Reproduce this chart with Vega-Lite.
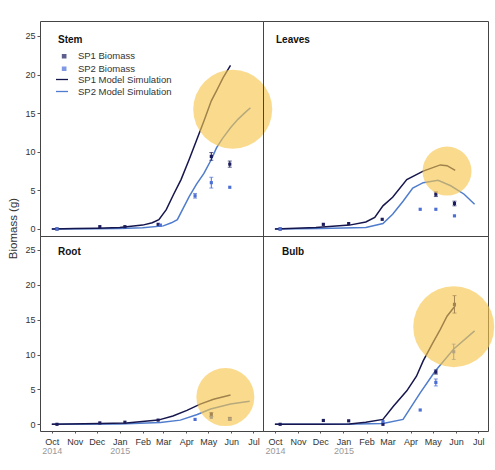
{
  "$schema": "https://vega.github.io/schema/vega-lite/v6.json",
  "padding": {"left": 6, "top": 20, "right": 0, "bottom": 5},
  "background": "white",
  "config": {
    "view": {"stroke": "#444", "strokeWidth": 1},
    "font": "Liberation Sans",
    "axis": {"grid": false, "domain": false, "labelFont": "Liberation Sans", "labelFontSize": 9, "labelColor": "#333", "tickColor": "#555", "titleFont": "Liberation Sans", "titleFontWeight": "normal", "titleColor": "#333", "labelOverlap": false},
    "title": {"font": "Liberation Sans", "fontSize": 10, "fontWeight": "bold", "color": "#111", "anchor": "start", "frame": "group"},
    "legend": {"labelFont": "Liberation Sans", "labelFontSize": 9.5, "labelColor": "#333", "title": null}
  },
  "datasets": {
    "model": [
      {"panel": "Stem", "series": "SP2 Model Simulation", "date": "2014-10-01", "value": 0},
      {"panel": "Stem", "series": "SP2 Model Simulation", "date": "2014-12-01", "value": 0.02},
      {"panel": "Stem", "series": "SP2 Model Simulation", "date": "2015-01-01", "value": 0.05},
      {"panel": "Stem", "series": "SP2 Model Simulation", "date": "2015-02-01", "value": 0.15},
      {"panel": "Stem", "series": "SP2 Model Simulation", "date": "2015-03-01", "value": 0.4},
      {"panel": "Stem", "series": "SP2 Model Simulation", "date": "2015-03-12", "value": 0.8},
      {"panel": "Stem", "series": "SP2 Model Simulation", "date": "2015-03-20", "value": 1.2},
      {"panel": "Stem", "series": "SP2 Model Simulation", "date": "2015-03-28", "value": 2.7},
      {"panel": "Stem", "series": "SP2 Model Simulation", "date": "2015-04-05", "value": 4.2},
      {"panel": "Stem", "series": "SP2 Model Simulation", "date": "2015-04-15", "value": 5.8},
      {"panel": "Stem", "series": "SP2 Model Simulation", "date": "2015-04-25", "value": 7.2},
      {"panel": "Stem", "series": "SP2 Model Simulation", "date": "2015-05-05", "value": 9.0},
      {"panel": "Stem", "series": "SP2 Model Simulation", "date": "2015-05-12", "value": 10.5},
      {"panel": "Stem", "series": "SP2 Model Simulation", "date": "2015-05-20", "value": 11.7},
      {"panel": "Stem", "series": "SP2 Model Simulation", "date": "2015-05-31", "value": 13.1},
      {"panel": "Stem", "series": "SP2 Model Simulation", "date": "2015-06-10", "value": 14.2},
      {"panel": "Stem", "series": "SP2 Model Simulation", "date": "2015-06-20", "value": 15.1},
      {"panel": "Stem", "series": "SP2 Model Simulation", "date": "2015-06-27", "value": 15.7},
      {"panel": "Stem", "series": "SP1 Model Simulation", "date": "2014-10-01", "value": 0},
      {"panel": "Stem", "series": "SP1 Model Simulation", "date": "2014-11-01", "value": 0.05},
      {"panel": "Stem", "series": "SP1 Model Simulation", "date": "2014-12-01", "value": 0.1},
      {"panel": "Stem", "series": "SP1 Model Simulation", "date": "2015-01-01", "value": 0.2},
      {"panel": "Stem", "series": "SP1 Model Simulation", "date": "2015-02-01", "value": 0.5},
      {"panel": "Stem", "series": "SP1 Model Simulation", "date": "2015-02-14", "value": 0.8},
      {"panel": "Stem", "series": "SP1 Model Simulation", "date": "2015-02-23", "value": 1.2},
      {"panel": "Stem", "series": "SP1 Model Simulation", "date": "2015-03-05", "value": 2.5},
      {"panel": "Stem", "series": "SP1 Model Simulation", "date": "2015-03-15", "value": 4.5},
      {"panel": "Stem", "series": "SP1 Model Simulation", "date": "2015-03-25", "value": 6.4},
      {"panel": "Stem", "series": "SP1 Model Simulation", "date": "2015-04-05", "value": 9.0},
      {"panel": "Stem", "series": "SP1 Model Simulation", "date": "2015-04-15", "value": 11.5},
      {"panel": "Stem", "series": "SP1 Model Simulation", "date": "2015-04-25", "value": 14.0},
      {"panel": "Stem", "series": "SP1 Model Simulation", "date": "2015-05-05", "value": 16.6},
      {"panel": "Stem", "series": "SP1 Model Simulation", "date": "2015-05-12", "value": 17.9},
      {"panel": "Stem", "series": "SP1 Model Simulation", "date": "2015-05-21", "value": 19.6},
      {"panel": "Stem", "series": "SP1 Model Simulation", "date": "2015-05-31", "value": 21.2},
      {"panel": "Leaves", "series": "SP2 Model Simulation", "date": "2014-10-01", "value": 0},
      {"panel": "Leaves", "series": "SP2 Model Simulation", "date": "2014-12-01", "value": 0.05},
      {"panel": "Leaves", "series": "SP2 Model Simulation", "date": "2015-01-31", "value": 0.2},
      {"panel": "Leaves", "series": "SP2 Model Simulation", "date": "2015-02-23", "value": 0.7},
      {"panel": "Leaves", "series": "SP2 Model Simulation", "date": "2015-03-08", "value": 1.9},
      {"panel": "Leaves", "series": "SP2 Model Simulation", "date": "2015-03-22", "value": 3.6},
      {"panel": "Leaves", "series": "SP2 Model Simulation", "date": "2015-04-04", "value": 5.3},
      {"panel": "Leaves", "series": "SP2 Model Simulation", "date": "2015-04-18", "value": 6.0},
      {"panel": "Leaves", "series": "SP2 Model Simulation", "date": "2015-05-08", "value": 6.3},
      {"panel": "Leaves", "series": "SP2 Model Simulation", "date": "2015-05-25", "value": 5.6},
      {"panel": "Leaves", "series": "SP2 Model Simulation", "date": "2015-06-12", "value": 4.5},
      {"panel": "Leaves", "series": "SP2 Model Simulation", "date": "2015-06-26", "value": 3.2},
      {"panel": "Leaves", "series": "SP1 Model Simulation", "date": "2014-10-01", "value": 0},
      {"panel": "Leaves", "series": "SP1 Model Simulation", "date": "2014-11-25", "value": 0.2},
      {"panel": "Leaves", "series": "SP1 Model Simulation", "date": "2015-01-09", "value": 0.5},
      {"panel": "Leaves", "series": "SP1 Model Simulation", "date": "2015-01-31", "value": 0.9},
      {"panel": "Leaves", "series": "SP1 Model Simulation", "date": "2015-02-12", "value": 1.5},
      {"panel": "Leaves", "series": "SP1 Model Simulation", "date": "2015-02-23", "value": 3.0},
      {"panel": "Leaves", "series": "SP1 Model Simulation", "date": "2015-03-08", "value": 4.1},
      {"panel": "Leaves", "series": "SP1 Model Simulation", "date": "2015-03-27", "value": 6.4},
      {"panel": "Leaves", "series": "SP1 Model Simulation", "date": "2015-04-18", "value": 7.5},
      {"panel": "Leaves", "series": "SP1 Model Simulation", "date": "2015-05-11", "value": 8.3},
      {"panel": "Leaves", "series": "SP1 Model Simulation", "date": "2015-05-20", "value": 8.2},
      {"panel": "Leaves", "series": "SP1 Model Simulation", "date": "2015-05-31", "value": 7.6},
      {"panel": "Root", "series": "SP2 Model Simulation", "date": "2014-10-01", "value": 0},
      {"panel": "Root", "series": "SP2 Model Simulation", "date": "2015-01-01", "value": 0.05},
      {"panel": "Root", "series": "SP2 Model Simulation", "date": "2015-02-25", "value": 0.25},
      {"panel": "Root", "series": "SP2 Model Simulation", "date": "2015-03-24", "value": 0.6},
      {"panel": "Root", "series": "SP2 Model Simulation", "date": "2015-04-16", "value": 1.4},
      {"panel": "Root", "series": "SP2 Model Simulation", "date": "2015-05-04", "value": 2.2},
      {"panel": "Root", "series": "SP2 Model Simulation", "date": "2015-05-31", "value": 2.9},
      {"panel": "Root", "series": "SP2 Model Simulation", "date": "2015-06-26", "value": 3.3},
      {"panel": "Root", "series": "SP1 Model Simulation", "date": "2014-10-01", "value": 0},
      {"panel": "Root", "series": "SP1 Model Simulation", "date": "2014-12-05", "value": 0.1},
      {"panel": "Root", "series": "SP1 Model Simulation", "date": "2015-01-10", "value": 0.2},
      {"panel": "Root", "series": "SP1 Model Simulation", "date": "2015-02-22", "value": 0.6},
      {"panel": "Root", "series": "SP1 Model Simulation", "date": "2015-03-14", "value": 1.2},
      {"panel": "Root", "series": "SP1 Model Simulation", "date": "2015-04-02", "value": 2.0},
      {"panel": "Root", "series": "SP1 Model Simulation", "date": "2015-04-20", "value": 2.9},
      {"panel": "Root", "series": "SP1 Model Simulation", "date": "2015-05-08", "value": 3.6},
      {"panel": "Root", "series": "SP1 Model Simulation", "date": "2015-05-31", "value": 4.2},
      {"panel": "Bulb", "series": "SP2 Model Simulation", "date": "2014-10-01", "value": 0},
      {"panel": "Bulb", "series": "SP2 Model Simulation", "date": "2015-01-01", "value": 0},
      {"panel": "Bulb", "series": "SP2 Model Simulation", "date": "2015-02-23", "value": 0.1},
      {"panel": "Bulb", "series": "SP2 Model Simulation", "date": "2015-03-22", "value": 0.7},
      {"panel": "Bulb", "series": "SP2 Model Simulation", "date": "2015-04-14", "value": 4.5},
      {"panel": "Bulb", "series": "SP2 Model Simulation", "date": "2015-05-04", "value": 7.6},
      {"panel": "Bulb", "series": "SP2 Model Simulation", "date": "2015-05-29", "value": 10.8},
      {"panel": "Bulb", "series": "SP2 Model Simulation", "date": "2015-06-26", "value": 13.4},
      {"panel": "Bulb", "series": "SP1 Model Simulation", "date": "2014-10-01", "value": 0},
      {"panel": "Bulb", "series": "SP1 Model Simulation", "date": "2014-12-01", "value": 0},
      {"panel": "Bulb", "series": "SP1 Model Simulation", "date": "2015-01-09", "value": 0.05},
      {"panel": "Bulb", "series": "SP1 Model Simulation", "date": "2015-01-31", "value": 0.3},
      {"panel": "Bulb", "series": "SP1 Model Simulation", "date": "2015-02-23", "value": 0.7},
      {"panel": "Bulb", "series": "SP1 Model Simulation", "date": "2015-03-09", "value": 2.6},
      {"panel": "Bulb", "series": "SP1 Model Simulation", "date": "2015-03-27", "value": 4.8},
      {"panel": "Bulb", "series": "SP1 Model Simulation", "date": "2015-04-09", "value": 6.9},
      {"panel": "Bulb", "series": "SP1 Model Simulation", "date": "2015-04-18", "value": 9.1},
      {"panel": "Bulb", "series": "SP1 Model Simulation", "date": "2015-04-30", "value": 11.5},
      {"panel": "Bulb", "series": "SP1 Model Simulation", "date": "2015-05-11", "value": 13.6},
      {"panel": "Bulb", "series": "SP1 Model Simulation", "date": "2015-05-20", "value": 15.5},
      {"panel": "Bulb", "series": "SP1 Model Simulation", "date": "2015-05-31", "value": 17.0}
    ],
    "obs": [
      {"panel": "Stem", "series": "SP1 Biomass", "date": "2014-10-08", "value": 0, "lo": null, "hi": null},
      {"panel": "Stem", "series": "SP1 Biomass", "date": "2014-12-05", "value": 0.3, "lo": null, "hi": null},
      {"panel": "Stem", "series": "SP1 Biomass", "date": "2015-01-08", "value": 0.3, "lo": null, "hi": null},
      {"panel": "Stem", "series": "SP1 Biomass", "date": "2015-02-22", "value": 0.6, "lo": null, "hi": null},
      {"panel": "Stem", "series": "SP1 Biomass", "date": "2015-05-05", "value": 9.4, "lo": 8.9, "hi": 9.9},
      {"panel": "Stem", "series": "SP1 Biomass", "date": "2015-05-30", "value": 8.4, "lo": 8.0, "hi": 8.8},
      {"panel": "Stem", "series": "SP2 Biomass", "date": "2014-10-08", "value": 0, "lo": null, "hi": null},
      {"panel": "Stem", "series": "SP2 Biomass", "date": "2015-02-25", "value": 0.5, "lo": null, "hi": null},
      {"panel": "Stem", "series": "SP2 Biomass", "date": "2015-04-13", "value": 4.3, "lo": 4.0, "hi": 4.6},
      {"panel": "Stem", "series": "SP2 Biomass", "date": "2015-05-05", "value": 6.0, "lo": 5.3, "hi": 6.7},
      {"panel": "Stem", "series": "SP2 Biomass", "date": "2015-05-30", "value": 5.4, "lo": null, "hi": null},
      {"panel": "Leaves", "series": "SP1 Biomass", "date": "2014-10-08", "value": 0, "lo": null, "hi": null},
      {"panel": "Leaves", "series": "SP1 Biomass", "date": "2014-12-05", "value": 0.6, "lo": null, "hi": null},
      {"panel": "Leaves", "series": "SP1 Biomass", "date": "2015-01-08", "value": 0.7, "lo": null, "hi": null},
      {"panel": "Leaves", "series": "SP1 Biomass", "date": "2015-02-22", "value": 1.25, "lo": null, "hi": null},
      {"panel": "Leaves", "series": "SP1 Biomass", "date": "2015-05-05", "value": 4.5, "lo": 4.2, "hi": 4.8},
      {"panel": "Leaves", "series": "SP1 Biomass", "date": "2015-05-30", "value": 3.3, "lo": 3.0, "hi": 3.6},
      {"panel": "Leaves", "series": "SP2 Biomass", "date": "2014-10-08", "value": 0, "lo": null, "hi": null},
      {"panel": "Leaves", "series": "SP2 Biomass", "date": "2015-04-14", "value": 2.55, "lo": null, "hi": null},
      {"panel": "Leaves", "series": "SP2 Biomass", "date": "2015-05-05", "value": 2.55, "lo": null, "hi": null},
      {"panel": "Leaves", "series": "SP2 Biomass", "date": "2015-05-30", "value": 1.7, "lo": null, "hi": null},
      {"panel": "Root", "series": "SP1 Biomass", "date": "2014-10-08", "value": 0, "lo": null, "hi": null},
      {"panel": "Root", "series": "SP1 Biomass", "date": "2014-12-05", "value": 0.2, "lo": null, "hi": null},
      {"panel": "Root", "series": "SP1 Biomass", "date": "2015-01-08", "value": 0.3, "lo": null, "hi": null},
      {"panel": "Root", "series": "SP1 Biomass", "date": "2015-02-22", "value": 0.6, "lo": null, "hi": null},
      {"panel": "Root", "series": "SP1 Biomass", "date": "2015-05-05", "value": 1.4, "lo": 1.1, "hi": 1.7},
      {"panel": "Root", "series": "SP1 Biomass", "date": "2015-05-30", "value": 0.8, "lo": 0.6, "hi": 1.0},
      {"panel": "Root", "series": "SP2 Biomass", "date": "2015-04-13", "value": 0.7, "lo": null, "hi": null},
      {"panel": "Root", "series": "SP2 Biomass", "date": "2015-05-05", "value": 1.0, "lo": null, "hi": null},
      {"panel": "Root", "series": "SP2 Biomass", "date": "2015-05-30", "value": 0.75, "lo": null, "hi": null},
      {"panel": "Bulb", "series": "SP1 Biomass", "date": "2014-10-08", "value": 0, "lo": null, "hi": null},
      {"panel": "Bulb", "series": "SP1 Biomass", "date": "2014-12-05", "value": 0.55, "lo": null, "hi": null},
      {"panel": "Bulb", "series": "SP1 Biomass", "date": "2015-01-08", "value": 0.5, "lo": null, "hi": null},
      {"panel": "Bulb", "series": "SP1 Biomass", "date": "2015-02-23", "value": 0.0, "lo": null, "hi": null},
      {"panel": "Bulb", "series": "SP1 Biomass", "date": "2015-05-05", "value": 7.5, "lo": 7.2, "hi": 7.8},
      {"panel": "Bulb", "series": "SP1 Biomass", "date": "2015-05-30", "value": 17.2, "lo": 15.95, "hi": 18.45},
      {"panel": "Bulb", "series": "SP2 Biomass", "date": "2015-02-23", "value": 0.4, "lo": null, "hi": null},
      {"panel": "Bulb", "series": "SP2 Biomass", "date": "2015-04-14", "value": 2.05, "lo": null, "hi": null},
      {"panel": "Bulb", "series": "SP2 Biomass", "date": "2015-05-05", "value": 6.0, "lo": 5.5, "hi": 6.5},
      {"panel": "Bulb", "series": "SP2 Biomass", "date": "2015-05-29", "value": 10.4, "lo": 9.3, "hi": 11.5}
    ],
    "highlight": [
      {"panel": "Stem", "date": "2015-06-03", "value": 15.5},
      {"panel": "Leaves", "date": "2015-05-20", "value": 7.5},
      {"panel": "Root", "date": "2015-05-24", "value": 3.9},
      {"panel": "Bulb", "date": "2015-05-29", "value": 14.0}
    ]
  },
  "columns": 2,
  "spacing": 0,
  "bounds": "flush",
  "align": "each",
  "concat": [
    {
      "width": 223, "height": 215,
      "title": {"text": "Stem", "offset": -24, "dx": 18},
      "layer": [
        {
          "data": {"name": "model"},
          "transform": [{"filter": "datum.panel == 'Stem'"}],
          "mark": {"type": "line", "strokeWidth": 1.5},
          "encoding": {
            "x": {"field": "date", "type": "temporal", "scale": {"type": "utc", "domain": [{"year": 2014, "month": 9, "date": 15, "utc": true}, {"year": 2015, "month": 7, "date": 14, "utc": true}]}, "axis": null},
            "y": {"field": "value", "type": "quantitative", "scale": {"domain": [-0.91, 26.94], "nice": false, "zero": false},
              "axis": {"values": [0, 5, 10, 15, 20, 25], "tickSize": 3, "labelPadding": 2, "title": "Biomass (g)", "titleFontSize": 11.5, "titleX": -22, "titleY": 207}},
            "stroke": {"field": "series", "type": "nominal",
              "scale": {"domain": ["SP1 Model Simulation", "SP2 Model Simulation"], "range": ["#16164e", "#4f7ccc"]},
              "legend": {"orient": "none", "legendX": 15, "legendY": 51.5, "symbolType": "stroke", "symbolSize": 144, "symbolStrokeWidth": 1.3, "rowPadding": 0, "labelOffset": 9}
            }
          }
        },
        {
          "data": {"name": "obs"},
          "transform": [{"filter": "datum.panel == 'Stem' && isValid(datum.lo)"}],
          "mark": {"type": "rule", "strokeWidth": 1},
          "encoding": {
            "x": {"field": "date", "type": "temporal", "axis": null},
            "y": {"field": "lo", "type": "quantitative", "axis": {"values": [0, 5, 10, 15, 20, 25], "tickSize": 3, "labelPadding": 2, "title": "Biomass (g)", "titleFontSize": 11.5, "titleX": -22, "titleY": 207}},
            "y2": {"field": "hi"},
            "color": {"field": "series", "type": "nominal"}
          }
        },
        {
          "data": {"name": "obs"},
          "transform": [{"filter": "datum.panel == 'Stem' && isValid(datum.lo)"}, {"fold": ["lo", "hi"], "as": ["end", "cap"]}],
          "mark": {"type": "tick", "orient": "horizontal", "size": 4, "thickness": 1},
          "encoding": {
            "x": {"field": "date", "type": "temporal", "axis": null},
            "y": {"field": "cap", "type": "quantitative", "axis": {"values": [0, 5, 10, 15, 20, 25], "tickSize": 3, "labelPadding": 2, "title": "Biomass (g)", "titleFontSize": 11.5, "titleX": -22, "titleY": 207}},
            "color": {"field": "series", "type": "nominal"}
          }
        },
        {
          "data": {"name": "obs"},
          "transform": [{"filter": "datum.panel == 'Stem'"}],
          "mark": {"type": "point", "shape": "square", "filled": true, "size": 10, "opacity": 1},
          "encoding": {
            "x": {"field": "date", "type": "temporal", "axis": null},
            "y": {"field": "value", "type": "quantitative", "axis": {"values": [0, 5, 10, 15, 20, 25], "tickSize": 3, "labelPadding": 2, "title": "Biomass (g)", "titleFontSize": 11.5, "titleX": -22, "titleY": 207}},
            "color": {"field": "series", "type": "nominal",
              "scale": {"domain": ["SP1 Biomass", "SP2 Biomass"], "range": ["#1c1c5c", "#4c6fd6"]},
              "legend": {"orient": "none", "legendX": 19.4, "legendY": 30.5, "symbolType": "square", "symbolSize": 10, "rowPadding": 1.5, "labelOffset": 9}
            }
          }
        },
        {
          "data": {"name": "highlight"},
          "transform": [{"filter": "datum.panel == 'Stem'"}],
          "mark": {"type": "circle", "size": 6241, "color": "#F7C548", "opacity": 0.62, "clip": false},
          "encoding": {
            "x": {"field": "date", "type": "temporal", "axis": null},
            "y": {"field": "value", "type": "quantitative", "axis": {"values": [0, 5, 10, 15, 20, 25], "tickSize": 3, "labelPadding": 2, "title": "Biomass (g)", "titleFontSize": 11.5, "titleX": -22, "titleY": 207}}
          }
        }
      ]
    },
    {
      "width": 225, "height": 215,
      "title": {"text": "Leaves", "offset": -24, "dx": 13},
      "layer": [
        {
          "data": {"name": "model"},
          "transform": [{"filter": "datum.panel == 'Leaves'"}],
          "mark": {"type": "line", "strokeWidth": 1.5},
          "encoding": {
            "x": {"field": "date", "type": "temporal", "scale": {"type": "utc", "domain": [{"year": 2014, "month": 9, "date": 15, "utc": true}, {"year": 2015, "month": 7, "date": 14, "utc": true}]}, "axis": null},
            "y": {"field": "value", "type": "quantitative", "scale": {"domain": [-0.91, 26.94], "nice": false, "zero": false}, "axis": null},
            "stroke": {"field": "series", "type": "nominal"}
          }
        },
        {
          "data": {"name": "obs"},
          "transform": [{"filter": "datum.panel == 'Leaves' && isValid(datum.lo)"}],
          "mark": {"type": "rule", "strokeWidth": 1},
          "encoding": {
            "x": {"field": "date", "type": "temporal", "axis": null},
            "y": {"field": "lo", "type": "quantitative", "axis": null},
            "y2": {"field": "hi"},
            "color": {"field": "series", "type": "nominal"}
          }
        },
        {
          "data": {"name": "obs"},
          "transform": [{"filter": "datum.panel == 'Leaves' && isValid(datum.lo)"}, {"fold": ["lo", "hi"], "as": ["end", "cap"]}],
          "mark": {"type": "tick", "orient": "horizontal", "size": 4, "thickness": 1},
          "encoding": {
            "x": {"field": "date", "type": "temporal", "axis": null},
            "y": {"field": "cap", "type": "quantitative", "axis": null},
            "color": {"field": "series", "type": "nominal"}
          }
        },
        {
          "data": {"name": "obs"},
          "transform": [{"filter": "datum.panel == 'Leaves'"}],
          "mark": {"type": "point", "shape": "square", "filled": true, "size": 10, "opacity": 1},
          "encoding": {
            "x": {"field": "date", "type": "temporal", "axis": null},
            "y": {"field": "value", "type": "quantitative", "axis": null},
            "color": {"field": "series", "type": "nominal"}
          }
        },
        {
          "data": {"name": "highlight"},
          "transform": [{"filter": "datum.panel == 'Leaves'"}],
          "mark": {"type": "circle", "size": 2401, "color": "#F7C548", "opacity": 0.62, "clip": false},
          "encoding": {
            "x": {"field": "date", "type": "temporal", "axis": null},
            "y": {"field": "value", "type": "quantitative", "axis": null}
          }
        }
      ]
    },
    {
      "width": 223, "height": 195,
      "title": {"text": "Root", "offset": -21, "dx": 18},
      "resolve": {"axis": {"x": "independent"}},
      "layer": [
        {
          "data": {"name": "model"},
          "transform": [{"filter": "datum.panel == 'Root'"}],
          "mark": {"type": "line", "strokeWidth": 1.5},
          "encoding": {
            "x": {"field": "date", "type": "temporal", "scale": {"type": "utc", "domain": [{"year": 2014, "month": 9, "date": 15, "utc": true}, {"year": 2015, "month": 7, "date": 14, "utc": true}]},
              "axis": {"orient": "bottom", "values": [{"year": 2014, "month": 10, "date": 1, "utc": true}, {"year": 2014, "month": 11, "date": 1, "utc": true}, {"year": 2014, "month": 12, "date": 1, "utc": true}, {"year": 2015, "month": 1, "date": 1, "utc": true}, {"year": 2015, "month": 2, "date": 1, "utc": true}, {"year": 2015, "month": 3, "date": 1, "utc": true}, {"year": 2015, "month": 4, "date": 1, "utc": true}, {"year": 2015, "month": 5, "date": 1, "utc": true}, {"year": 2015, "month": 6, "date": 1, "utc": true}, {"year": 2015, "month": 7, "date": 1, "utc": true}],
                "labelExpr": "utcFormat(datum.value, '%b')", "tickSize": 2, "labelPadding": 4, "title": null, "labelFlush": false, "labelBaseline": "top"}},
            "y": {"field": "value", "type": "quantitative", "scale": {"domain": [-0.96, 27.0], "nice": false, "zero": false},
              "axis": {"values": [0, 5, 10, 15, 20, 25], "tickSize": 3, "labelPadding": 2, "title": null}},
            "stroke": {"field": "series", "type": "nominal"}
          }
        },
        {
          "data": {"name": "obs"},
          "transform": [{"filter": "datum.panel == 'Root' && isValid(datum.lo)"}],
          "mark": {"type": "rule", "strokeWidth": 1},
          "encoding": {
            "x": {"field": "date", "type": "temporal", "axis": null},
            "y": {"field": "lo", "type": "quantitative", "axis": {"values": [0, 5, 10, 15, 20, 25], "tickSize": 3, "labelPadding": 2, "title": null}},
            "y2": {"field": "hi"},
            "color": {"field": "series", "type": "nominal"}
          }
        },
        {
          "data": {"name": "obs"},
          "transform": [{"filter": "datum.panel == 'Root' && isValid(datum.lo)"}, {"fold": ["lo", "hi"], "as": ["end", "cap"]}],
          "mark": {"type": "tick", "orient": "horizontal", "size": 4, "thickness": 1},
          "encoding": {
            "x": {"field": "date", "type": "temporal", "axis": null},
            "y": {"field": "cap", "type": "quantitative", "axis": {"values": [0, 5, 10, 15, 20, 25], "tickSize": 3, "labelPadding": 2, "title": null}},
            "color": {"field": "series", "type": "nominal"}
          }
        },
        {
          "data": {"name": "obs"},
          "transform": [{"filter": "datum.panel == 'Root'"}],
          "mark": {"type": "point", "shape": "square", "filled": true, "size": 10, "opacity": 1},
          "encoding": {
            "x": {"field": "date", "type": "temporal", "axis": null},
            "y": {"field": "value", "type": "quantitative", "axis": {"values": [0, 5, 10, 15, 20, 25], "tickSize": 3, "labelPadding": 2, "title": null}},
            "color": {"field": "series", "type": "nominal"}
          }
        },
        {
          "data": {"name": "highlight"},
          "transform": [{"filter": "datum.panel == 'Root'"}],
          "mark": {"type": "circle", "size": 3364, "color": "#F7C548", "opacity": 0.62, "clip": false},
          "encoding": {
            "x": {"field": "date", "type": "temporal",
              "axis": {"orient": "bottom", "values": [{"year": 2014, "month": 10, "date": 1, "utc": true}, {"year": 2015, "month": 1, "date": 1, "utc": true}],
                "labelExpr": "utcFormat(datum.value, '%Y')", "ticks": false, "labelPadding": 15, "labelColor": "#999", "title": null, "labelFlush": false, "labelBaseline": "top"}},
            "y": {"field": "value", "type": "quantitative", "axis": {"values": [0, 5, 10, 15, 20, 25], "tickSize": 3, "labelPadding": 2, "title": null}}
          }
        }
      ]
    },
    {
      "width": 225, "height": 195,
      "title": {"text": "Bulb", "offset": -21, "dx": 19},
      "resolve": {"axis": {"x": "independent"}},
      "layer": [
        {
          "data": {"name": "model"},
          "transform": [{"filter": "datum.panel == 'Bulb'"}],
          "mark": {"type": "line", "strokeWidth": 1.5},
          "encoding": {
            "x": {"field": "date", "type": "temporal", "scale": {"type": "utc", "domain": [{"year": 2014, "month": 9, "date": 15, "utc": true}, {"year": 2015, "month": 7, "date": 14, "utc": true}]},
              "axis": {"orient": "bottom", "values": [{"year": 2014, "month": 10, "date": 1, "utc": true}, {"year": 2014, "month": 11, "date": 1, "utc": true}, {"year": 2014, "month": 12, "date": 1, "utc": true}, {"year": 2015, "month": 1, "date": 1, "utc": true}, {"year": 2015, "month": 2, "date": 1, "utc": true}, {"year": 2015, "month": 3, "date": 1, "utc": true}, {"year": 2015, "month": 4, "date": 1, "utc": true}, {"year": 2015, "month": 5, "date": 1, "utc": true}, {"year": 2015, "month": 6, "date": 1, "utc": true}, {"year": 2015, "month": 7, "date": 1, "utc": true}],
                "labelExpr": "utcFormat(datum.value, '%b')", "tickSize": 2, "labelPadding": 4, "title": null, "labelFlush": false, "labelBaseline": "top"}},
            "y": {"field": "value", "type": "quantitative", "scale": {"domain": [-0.96, 27.0], "nice": false, "zero": false}, "axis": null},
            "stroke": {"field": "series", "type": "nominal"}
          }
        },
        {
          "data": {"name": "obs"},
          "transform": [{"filter": "datum.panel == 'Bulb' && isValid(datum.lo)"}],
          "mark": {"type": "rule", "strokeWidth": 1},
          "encoding": {
            "x": {"field": "date", "type": "temporal", "axis": null},
            "y": {"field": "lo", "type": "quantitative", "axis": null},
            "y2": {"field": "hi"},
            "color": {"field": "series", "type": "nominal"}
          }
        },
        {
          "data": {"name": "obs"},
          "transform": [{"filter": "datum.panel == 'Bulb' && isValid(datum.lo)"}, {"fold": ["lo", "hi"], "as": ["end", "cap"]}],
          "mark": {"type": "tick", "orient": "horizontal", "size": 4, "thickness": 1},
          "encoding": {
            "x": {"field": "date", "type": "temporal", "axis": null},
            "y": {"field": "cap", "type": "quantitative", "axis": null},
            "color": {"field": "series", "type": "nominal"}
          }
        },
        {
          "data": {"name": "obs"},
          "transform": [{"filter": "datum.panel == 'Bulb'"}],
          "mark": {"type": "point", "shape": "square", "filled": true, "size": 10, "opacity": 1},
          "encoding": {
            "x": {"field": "date", "type": "temporal", "axis": null},
            "y": {"field": "value", "type": "quantitative", "axis": null},
            "color": {"field": "series", "type": "nominal"}
          }
        },
        {
          "data": {"name": "highlight"},
          "transform": [{"filter": "datum.panel == 'Bulb'"}],
          "mark": {"type": "circle", "size": 6561, "color": "#F7C548", "opacity": 0.62, "clip": false},
          "encoding": {
            "x": {"field": "date", "type": "temporal",
              "axis": {"orient": "bottom", "values": [{"year": 2014, "month": 10, "date": 1, "utc": true}, {"year": 2015, "month": 1, "date": 1, "utc": true}],
                "labelExpr": "utcFormat(datum.value, '%Y')", "ticks": false, "labelPadding": 15, "labelColor": "#999", "title": null, "labelFlush": false, "labelBaseline": "top"}},
            "y": {"field": "value", "type": "quantitative", "axis": null}
          }
        }
      ]
    }
  ]
}
